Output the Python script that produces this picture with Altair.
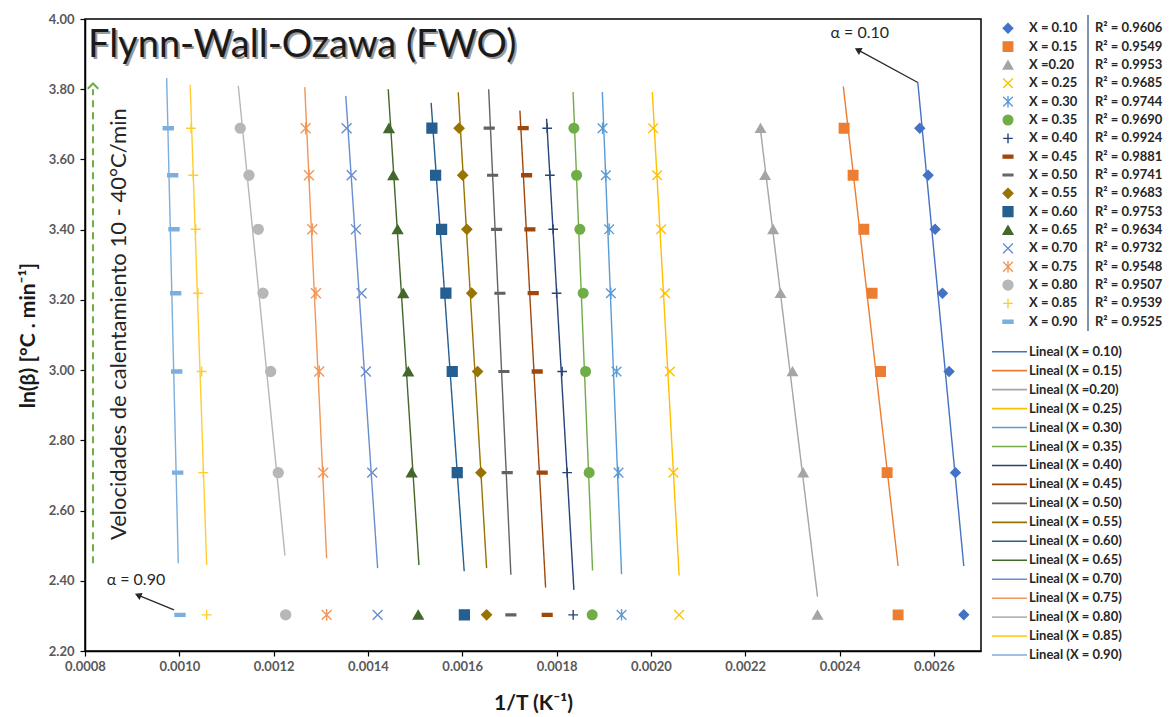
import altair as alt
import pandas as pd

# ---- data -----------------------------------------------------------------
conversions = ["0.10", "0.15", "0.20", "0.25", "0.30", "0.35", "0.40", "0.45", "0.50",
               "0.55", "0.60", "0.65", "0.70", "0.75", "0.80", "0.85", "0.90"]
point_labels = ["X = 0.10", "X = 0.15", "X =0.20", "X = 0.25", "X = 0.30", "X = 0.35",
                "X = 0.40", "X = 0.45", "X = 0.50", "X = 0.55", "X = 0.60", "X = 0.65",
                "X = 0.70", "X = 0.75", "X = 0.80", "X = 0.85", "X = 0.90"]
r2_labels = ["R² = 0.9606", "R² = 0.9549", "R² = 0.9953", "R² = 0.9685", "R² = 0.9744",
             "R² = 0.9690", "R² = 0.9924", "R² = 0.9881", "R² = 0.9741", "R² = 0.9683",
             "R² = 0.9753", "R² = 0.9634", "R² = 0.9732", "R² = 0.9548", "R² = 0.9507",
             "R² = 0.9539", "R² = 0.9525"]
trend_labels = ["Lineal (X = 0.10)", "Lineal (X = 0.15)", "Lineal (X =0.20)",
                "Lineal (X = 0.25)", "Lineal (X = 0.30)", "Lineal (X = 0.35)",
                "Lineal (X = 0.40)", "Lineal (X = 0.45)", "Lineal (X = 0.50)",
                "Lineal (X = 0.55)", "Lineal (X = 0.60)", "Lineal (X = 0.65)",
                "Lineal (X = 0.70)", "Lineal (X = 0.75)", "Lineal (X = 0.80)",
                "Lineal (X = 0.85)", "Lineal (X = 0.90)"]

# ln(beta) for heating rates of 40, 35, 30, 25, 20, 15 and 10 °C/min
ln_beta = [3.689, 3.555, 3.401, 3.219, 2.996, 2.708, 2.303]

# 1/T (K^-1) reached at each conversion, same order as ln_beta
inv_t_010 = [0.0025702, 0.0025878, 0.0026026, 0.0026183, 0.0026323, 0.0026459, 0.0026635]
inv_t_015 = [0.0024097, 0.0024288, 0.0024515, 0.0024691, 0.0024869, 0.0025009, 0.0025242]
inv_t_020 = [0.0022325, 0.0022422, 0.0022592, 0.0022749, 0.0023003, 0.0023228, 0.0023533]
inv_t_025 = [0.0020048, 0.0020133, 0.0020218, 0.0020302, 0.0020402, 0.0020476, 0.0020599]
inv_t_030 = [0.0018975, 0.0019045, 0.0019115, 0.0019151, 0.0019272, 0.0019314, 0.0019378]
inv_t_035 = [0.0018367, 0.0018424, 0.0018494, 0.0018564, 0.0018615, 0.0018691, 0.0018755]
inv_t_040 = [0.0017801, 0.0017858, 0.0017928, 0.0018000, 0.0018119, 0.0018225, 0.0018352]
inv_t_045 = [0.0017292, 0.0017364, 0.0017434, 0.0017504, 0.0017589, 0.0017695, 0.0017801]
inv_t_050 = [0.0016571, 0.0016643, 0.0016728, 0.0016798, 0.0016883, 0.0016953, 0.0017031]
inv_t_055 = [0.0015933, 0.0016009, 0.0016098, 0.0016200, 0.0016325, 0.0016395, 0.0016516]
inv_t_060 = [0.0015356, 0.0015435, 0.0015562, 0.0015653, 0.0015787, 0.0015893, 0.0016045]
inv_t_065 = [0.0014445, 0.0014536, 0.0014629, 0.0014748, 0.0014854, 0.0014926, 0.0015066]
inv_t_070 = [0.0013548, 0.0013654, 0.0013745, 0.0013866, 0.0013957, 0.0014091, 0.0014205]
inv_t_075 = [0.0012679, 0.0012749, 0.0012819, 0.0012897, 0.0012967, 0.0013052, 0.0013124]
inv_t_080 = [0.0011292, 0.0011477, 0.0011674, 0.0011774, 0.0011937, 0.0012098, 0.0012255]
inv_t_085 = [0.0010247, 0.0010296, 0.0010347, 0.0010396, 0.0010474, 0.0010508, 0.0010580]
inv_t_090 = [0.0009766, 0.0009859, 0.0009887, 0.0009923, 0.0009944, 0.0009965, 0.0010014]

# linear trend lines: end points (1/T, ln beta) at their upper and lower ends
trend_x_top = [0.0025660, 0.0024080, 0.0022310, 0.0020030, 0.0018970, 0.0018350, 0.0017788,
               0.0017222, 0.0016560, 0.0015915, 0.0015340, 0.0014430, 0.0013530, 0.0012660,
               0.0011250, 0.0010230, 0.0009732]
trend_y_top = [3.819, 3.808, 3.699, 3.792, 3.792, 3.792, 3.716, 3.739, 3.800, 3.791, 3.761,
               3.800, 3.781, 3.806, 3.810, 3.813, 3.832]
trend_x_bot = [0.0026635, 0.0025242, 0.0023533, 0.0020599, 0.0019378, 0.0018763, 0.0018367,
               0.0017767, 0.0017031, 0.0016516, 0.0016041, 0.0015081, 0.0014205, 0.0013124,
               0.0012240, 0.0010580, 0.0009978]
trend_y_bot = [2.442, 2.442, 2.355, 2.415, 2.419, 2.429, 2.374, 2.381, 2.417, 2.436, 2.427,
               2.445, 2.436, 2.464, 2.472, 2.445, 2.450]

x_ticks = [0.0008, 0.0010, 0.0012, 0.0014, 0.0016, 0.0018, 0.0020, 0.0022, 0.0024, 0.0026]
y_ticks = [2.2, 2.4, 2.6, 2.8, 3.0, 3.2, 3.4, 3.6, 3.8, 4.0]

# ---- styles ---------------------------------------------------------------
FONT = "Lato"
colors = ["#4472C4", "#ED7D31", "#A5A5A5", "#FFC000", "#5B9BD5", "#70AD47", "#264478",
          "#9E480E", "#636363", "#997300", "#255E91", "#43682B", "#698ED0", "#F1975A",
          "#B7B7B7", "#FFCD33", "#7CAFDD"]
X_PATH = "M-1,-1L1,1M-1,1L1,-1"
STAR_PATH = "M-1,-1L1,1M-1,1L1,-1M0,-1.2L0,1.2"
PLUS_PATH = "M-1,0L1,0M0,-1L0,1"
SHORT_DASH = "M-1,-0.3L1,-0.3L1,0.3L-1,0.3Z"
LONG_DASH = "M-1,-0.18L1,-0.18L1,0.18L-1,0.18Z"
shapes = ["diamond", "square", "triangle-up", X_PATH, STAR_PATH, "circle", PLUS_PATH,
          SHORT_DASH, LONG_DASH, "diamond", "square", "triangle-up", X_PATH, STAR_PATH,
          "circle", PLUS_PATH, SHORT_DASH]
sizes = [90, 100, 130, 90, 90, 120, 90, 18, 90, 90, 100, 130, 90, 90, 120, 90, 18]

series_tables = [inv_t_010, inv_t_015, inv_t_020, inv_t_025, inv_t_030, inv_t_035,
                 inv_t_040, inv_t_045, inv_t_050, inv_t_055, inv_t_060, inv_t_065,
                 inv_t_070, inv_t_075, inv_t_080, inv_t_085, inv_t_090]

points = pd.DataFrame(
    [{"serie": c, "invT": v, "lnb": b}
     for c, vals in zip(conversions, series_tables) for v, b in zip(vals, ln_beta)]
)
trends = pd.DataFrame({"serie": conversions, "x1": trend_x_top, "y1": trend_y_top,
                       "x2": trend_x_bot, "y2": trend_y_bot})

color_scale = alt.Scale(domain=conversions, range=colors)
shape_scale = alt.Scale(domain=conversions, range=shapes)
size_scale = alt.Scale(domain=conversions, range=sizes)

x_scale = alt.Scale(domain=[0.0008, 0.0027], nice=False, zero=False)
y_scale = alt.Scale(domain=[2.2, 4.0], nice=False, zero=False)

W, H = 896, 632

x_axis = alt.Axis(values=x_ticks, format=".4f", title="1/T (K⁻¹)", grid=False)
y_axis = alt.Axis(values=y_ticks, format=".2f", title="ln(β) [°C . min⁻¹]", grid=False)

trend_layer = alt.Chart(trends).mark_rule(strokeWidth=1.4).encode(
    x=alt.X("x1:Q", scale=x_scale, axis=x_axis),
    y=alt.Y("y1:Q", scale=y_scale, axis=y_axis),
    x2="x2:Q", y2="y2:Q",
    color=alt.Color("serie:N", scale=color_scale, legend=None),
)

point_layer = alt.Chart(points).mark_point(filled=True, strokeWidth=1.4, opacity=1).encode(
    x=alt.X("invT:Q", scale=x_scale, axis=x_axis),
    y=alt.Y("lnb:Q", scale=y_scale, axis=y_axis),
    color=alt.Color("serie:N", scale=color_scale, legend=None),
    stroke=alt.Stroke("serie:N", scale=color_scale, legend=None),
    shape=alt.Shape("serie:N", scale=shape_scale, legend=None),
    size=alt.Size("serie:N", scale=size_scale, legend=None),
)

# ---- annotations ----------------------------------------------------------
title_df = pd.DataFrame({"t": ["Flynn-Wall-Ozawa (FWO)"]})
title_shadow = alt.Chart(title_df).mark_text(
    align="left", baseline="middle", font=FONT, fontSize=38, color="#9A9A9A"
).encode(x=alt.value(5), y=alt.value(29), text="t:N")
title_text = alt.Chart(title_df).mark_text(
    align="left", baseline="middle", font=FONT, fontSize=38, color="#1A1A1A"
).encode(x=alt.value(3), y=alt.value(27), text="t:N")

notes = pd.DataFrame({"invT": [0.002443, 0.000908], "lnb": [3.960, 2.401],
                      "t": ["α = 0.10", "α = 0.90"]})
note_layer = alt.Chart(notes).mark_text(font=FONT, fontSize=16, color="#262626").encode(
    x=alt.X("invT:Q", scale=x_scale), y=alt.Y("lnb:Q", scale=y_scale), text="t:N")

arrows = pd.DataFrame({"x1": [0.0025660, 0.0009887], "y1": [3.819, 2.317],
                       "x2": [0.0024388, 0.0009124], "y2": [3.912, 2.359],
                       "ang": [298, 293]})
arrow_lines = alt.Chart(arrows).mark_rule(color="#262626", strokeWidth=1.2).encode(
    x=alt.X("x1:Q", scale=x_scale), y=alt.Y("y1:Q", scale=y_scale), x2="x2:Q", y2="y2:Q")
arrow_heads = alt.Chart(arrows).mark_point(
    shape="triangle-up", filled=True, color="#262626", size=60, opacity=1
).encode(x=alt.X("x2:Q", scale=x_scale), y=alt.Y("y2:Q", scale=y_scale),
         angle=alt.Angle("ang:Q", scale=None))

rate = pd.DataFrame({"invT": [0.000817], "y1": [2.450], "y2": [3.800], "top": [3.812]})
rate_line = alt.Chart(rate).mark_rule(color="#70AD47", strokeWidth=2, strokeDash=[7, 5]).encode(
    x=alt.X("invT:Q", scale=x_scale), y=alt.Y("y1:Q", scale=y_scale), y2="y2:Q")
rate_head = alt.Chart(rate).mark_point(
    shape="M-1,0.7L0,-0.3L1,0.7", filled=False, color="#70AD47", strokeWidth=2, size=110,
    opacity=1
).encode(x=alt.X("invT:Q", scale=x_scale), y=alt.Y("top:Q", scale=y_scale))

rate_text_df = pd.DataFrame({"invT": [0.000872], "lnb": [3.131],
                             "t": ["Velocidades de calentamiento 10 - 40°C/min"]})
rate_text = alt.Chart(rate_text_df).mark_text(
    angle=270, font=FONT, fontSize=22, color="#262626", baseline="middle"
).encode(x=alt.X("invT:Q", scale=x_scale), y=alt.Y("lnb:Q", scale=y_scale), text="t:N")

# ---- legend (drawn to the right of the plot area) --------------------------
legend_df = pd.DataFrame({"serie": conversions, "lab": point_labels, "r2": r2_labels,
                          "tl": trend_labels, "row": list(range(len(conversions)))})
legend_df["py"] = 9.3 + 18.34 * legend_df["row"]
legend_df["ly"] = 332.7 + 18.96 * legend_df["row"]

leg_y = alt.Y("py:Q", scale=None, axis=None)
leg_y2 = alt.Y("ly:Q", scale=None, axis=None)

leg_marks = alt.Chart(legend_df).mark_point(filled=True, strokeWidth=1.4, opacity=1).encode(
    x=alt.value(923), y=leg_y,
    color=alt.Color("serie:N", scale=color_scale, legend=None),
    stroke=alt.Stroke("serie:N", scale=color_scale, legend=None),
    shape=alt.Shape("serie:N", scale=shape_scale, legend=None),
    size=alt.Size("serie:N", scale=size_scale, legend=None),
)
leg_text = alt.Chart(legend_df).mark_text(
    align="left", baseline="middle", font=FONT, fontSize=13, fontWeight="bold", color="#262626"
).encode(x=alt.value(944), y=leg_y, text="lab:N")
leg_r2 = alt.Chart(legend_df).mark_text(
    align="left", baseline="middle", font=FONT, fontSize=13, fontWeight="bold", color="#262626"
).encode(x=alt.value(1010), y=leg_y, text="r2:N")
leg_sep = alt.Chart(pd.DataFrame({"a": [0]})).mark_rule(color="#7F93AE", strokeWidth=2).encode(
    x=alt.value(1003), y=alt.value(-4), y2=alt.value(312))
leg_lines = alt.Chart(legend_df).mark_rule(strokeWidth=1.6).encode(
    x=alt.value(907), x2=alt.value(942), y=leg_y2,
    color=alt.Color("serie:N", scale=color_scale, legend=None))
leg_ltext = alt.Chart(legend_df).mark_text(
    align="left", baseline="middle", font=FONT, fontSize=13, fontWeight="bold", color="#262626"
).encode(x=alt.value(944), y=leg_y2, text="tl:N")

chart = alt.layer(
    trend_layer, point_layer, rate_line, rate_head, rate_text, arrow_lines, arrow_heads,
    note_layer, title_shadow, title_text,
    leg_marks, leg_text, leg_r2, leg_sep, leg_lines, leg_ltext,
).properties(
    width=W, height=H,
    autosize=alt.AutoSizeParams(type="none"),
    padding={"left": 85, "top": 19, "right": 188, "bottom": 66},
    background="white",
).configure_view(
    stroke="#000000", strokeWidth=1.5,
).configure_axis(
    domainColor="#000000", domainWidth=1.5, tickColor="#000000", tickSize=5, tickWidth=1.2,
    labelFont=FONT, labelFontSize=13, labelFontWeight="bold", labelColor="#595959",
    labelFlush=False,
    titleFont=FONT, titleFontSize=21, titleFontWeight="bold", titleColor="#1A1A1A",
).configure_axisX(
    labelPadding=4, titlePadding=19,
).configure_axisY(
    labelPadding=6, titlePadding=10,
)

chart.save("out.html", embed_options={"renderer": "svg", "actions": False})
